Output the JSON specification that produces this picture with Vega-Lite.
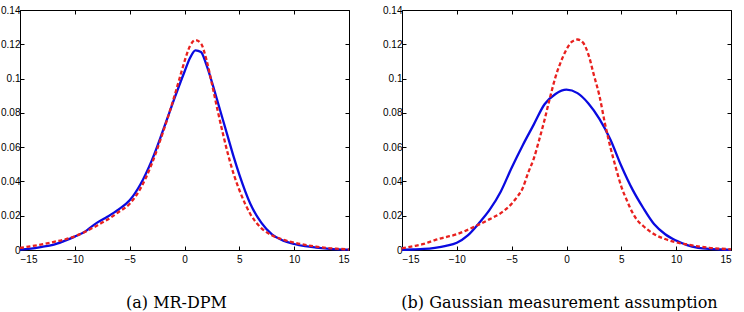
{
  "$schema": "https://vega.github.io/schema/vega-lite/v6.json",
  "padding": {"left": 0, "top": 4, "right": 5, "bottom": 0},
  "background": "white",
  "datasets": {
    "left": [
      {"s": "est", "x": -15, "y": 0.0003}, {"s": "est", "x": -14, "y": 0.0008}, {"s": "est", "x": -13, "y": 0.0018}, {"s": "est", "x": -12, "y": 0.003}, {"s": "est", "x": -11, "y": 0.0052}, {"s": "est", "x": -10, "y": 0.0078}, {"s": "est", "x": -9, "y": 0.011}, {"s": "est", "x": -8.5, "y": 0.0135}, {"s": "est", "x": -8, "y": 0.0158}, {"s": "est", "x": -7, "y": 0.0195}, {"s": "est", "x": -6, "y": 0.0237}, {"s": "est", "x": -5, "y": 0.029}, {"s": "est", "x": -4, "y": 0.0385}, {"s": "est", "x": -3, "y": 0.052}, {"s": "est", "x": -2, "y": 0.069}, {"s": "est", "x": -1, "y": 0.087}, {"s": "est", "x": 0, "y": 0.104}, {"s": "est", "x": 0.5, "y": 0.112}, {"s": "est", "x": 1, "y": 0.1165}, {"s": "est", "x": 1.5, "y": 0.1155}, {"s": "est", "x": 2, "y": 0.108}, {"s": "est", "x": 2.5, "y": 0.098}, {"s": "est", "x": 3, "y": 0.087}, {"s": "est", "x": 3.5, "y": 0.076}, {"s": "est", "x": 4, "y": 0.065}, {"s": "est", "x": 4.5, "y": 0.054}, {"s": "est", "x": 5, "y": 0.044}, {"s": "est", "x": 6, "y": 0.027}, {"s": "est", "x": 7, "y": 0.016}, {"s": "est", "x": 8, "y": 0.009}, {"s": "est", "x": 9, "y": 0.0055}, {"s": "est", "x": 10, "y": 0.0035}, {"s": "est", "x": 11, "y": 0.0022}, {"s": "est", "x": 12, "y": 0.0014}, {"s": "est", "x": 13, "y": 0.0008}, {"s": "est", "x": 14, "y": 0.0004}, {"s": "est", "x": 15, "y": 0.0002},
      {"s": "true", "x": -15, "y": 0.0012}, {"s": "true", "x": -14, "y": 0.0022}, {"s": "true", "x": -13, "y": 0.0033}, {"s": "true", "x": -12, "y": 0.0046}, {"s": "true", "x": -11, "y": 0.006}, {"s": "true", "x": -10, "y": 0.008}, {"s": "true", "x": -9, "y": 0.0108}, {"s": "true", "x": -8, "y": 0.0142}, {"s": "true", "x": -7, "y": 0.0178}, {"s": "true", "x": -6, "y": 0.0222}, {"s": "true", "x": -5, "y": 0.027}, {"s": "true", "x": -4, "y": 0.036}, {"s": "true", "x": -3, "y": 0.05}, {"s": "true", "x": -2, "y": 0.068}, {"s": "true", "x": -1, "y": 0.088}, {"s": "true", "x": -0.5, "y": 0.099}, {"s": "true", "x": 0, "y": 0.11}, {"s": "true", "x": 0.5, "y": 0.119}, {"s": "true", "x": 1, "y": 0.1225}, {"s": "true", "x": 1.5, "y": 0.1205}, {"s": "true", "x": 2, "y": 0.111}, {"s": "true", "x": 2.5, "y": 0.097}, {"s": "true", "x": 3, "y": 0.082}, {"s": "true", "x": 3.5, "y": 0.068}, {"s": "true", "x": 4, "y": 0.055}, {"s": "true", "x": 4.5, "y": 0.044}, {"s": "true", "x": 5, "y": 0.035}, {"s": "true", "x": 6, "y": 0.021}, {"s": "true", "x": 7, "y": 0.0128}, {"s": "true", "x": 8, "y": 0.0085}, {"s": "true", "x": 9, "y": 0.006}, {"s": "true", "x": 10, "y": 0.0043}, {"s": "true", "x": 11, "y": 0.003}, {"s": "true", "x": 12, "y": 0.002}, {"s": "true", "x": 13, "y": 0.0012}, {"s": "true", "x": 14, "y": 0.0007}, {"s": "true", "x": 15, "y": 0.0003}
    ],
    "right": [
      {"s": "est", "x": -15, "y": 0.0001}, {"s": "est", "x": -14, "y": 0.0003}, {"s": "est", "x": -13, "y": 0.0006}, {"s": "est", "x": -12, "y": 0.0013}, {"s": "est", "x": -11, "y": 0.0024}, {"s": "est", "x": -10, "y": 0.0042}, {"s": "est", "x": -9, "y": 0.0085}, {"s": "est", "x": -8, "y": 0.0155}, {"s": "est", "x": -7, "y": 0.0235}, {"s": "est", "x": -6, "y": 0.034}, {"s": "est", "x": -5, "y": 0.048}, {"s": "est", "x": -4, "y": 0.061}, {"s": "est", "x": -3, "y": 0.073}, {"s": "est", "x": -2, "y": 0.085}, {"s": "est", "x": -1, "y": 0.091}, {"s": "est", "x": 0, "y": 0.0935}, {"s": "est", "x": 1, "y": 0.0915}, {"s": "est", "x": 2, "y": 0.0855}, {"s": "est", "x": 3, "y": 0.0765}, {"s": "est", "x": 4, "y": 0.0645}, {"s": "est", "x": 5, "y": 0.049}, {"s": "est", "x": 6, "y": 0.0355}, {"s": "est", "x": 7, "y": 0.0245}, {"s": "est", "x": 8, "y": 0.015}, {"s": "est", "x": 9, "y": 0.0092}, {"s": "est", "x": 10, "y": 0.0055}, {"s": "est", "x": 11, "y": 0.0028}, {"s": "est", "x": 12, "y": 0.0013}, {"s": "est", "x": 13, "y": 0.0006}, {"s": "est", "x": 14, "y": 0.0003}, {"s": "est", "x": 15, "y": 0.0001},
      {"s": "true", "x": -15, "y": 0.001}, {"s": "true", "x": -14, "y": 0.0022}, {"s": "true", "x": -13, "y": 0.0036}, {"s": "true", "x": -12, "y": 0.0058}, {"s": "true", "x": -11, "y": 0.0075}, {"s": "true", "x": -10, "y": 0.0092}, {"s": "true", "x": -9, "y": 0.0118}, {"s": "true", "x": -8, "y": 0.0148}, {"s": "true", "x": -7, "y": 0.018}, {"s": "true", "x": -6, "y": 0.0215}, {"s": "true", "x": -5, "y": 0.027}, {"s": "true", "x": -4.5, "y": 0.031}, {"s": "true", "x": -4, "y": 0.036}, {"s": "true", "x": -3.5, "y": 0.045}, {"s": "true", "x": -3, "y": 0.053}, {"s": "true", "x": -2.5, "y": 0.064}, {"s": "true", "x": -2, "y": 0.076}, {"s": "true", "x": -1.5, "y": 0.089}, {"s": "true", "x": -1, "y": 0.101}, {"s": "true", "x": -0.5, "y": 0.11}, {"s": "true", "x": 0, "y": 0.117}, {"s": "true", "x": 0.5, "y": 0.1215}, {"s": "true", "x": 1, "y": 0.1228}, {"s": "true", "x": 1.5, "y": 0.121}, {"s": "true", "x": 2, "y": 0.114}, {"s": "true", "x": 2.5, "y": 0.102}, {"s": "true", "x": 3, "y": 0.09}, {"s": "true", "x": 3.5, "y": 0.074}, {"s": "true", "x": 4, "y": 0.06}, {"s": "true", "x": 4.5, "y": 0.048}, {"s": "true", "x": 5, "y": 0.037}, {"s": "true", "x": 5.5, "y": 0.029}, {"s": "true", "x": 6, "y": 0.022}, {"s": "true", "x": 6.5, "y": 0.017}, {"s": "true", "x": 7, "y": 0.014}, {"s": "true", "x": 8, "y": 0.0092}, {"s": "true", "x": 9, "y": 0.0064}, {"s": "true", "x": 10, "y": 0.0045}, {"s": "true", "x": 11, "y": 0.0032}, {"s": "true", "x": 12, "y": 0.0021}, {"s": "true", "x": 13, "y": 0.0013}, {"s": "true", "x": 14, "y": 0.0008}, {"s": "true", "x": 15, "y": 0.0004}
    ]
  },
  "spacing": 53,
  "bounds": "flush",
  "hconcat": [
    {
      "width": 329,
      "height": 240,
      "data": {"name": "left"},
      "layer": [
        {
          "transform": [{"filter": "datum.s === 'est'"}],
          "mark": {"type": "line", "color": "#0a0ae0", "strokeWidth": 2.3, "interpolate": "monotone"},
          "encoding": {
            "x": {"field": "x", "type": "quantitative", "scale": {"domain": [-15, 15], "nice": false}, "axis": {"orient": "bottom", "values": [-15, -10, -5, 0, 5, 10, 15], "title": "(a) MR-DPM", "titleX": 156}},
            "y": {"field": "y", "type": "quantitative", "scale": {"domain": [0, 0.14], "nice": false}, "axis": {"orient": "left", "values": [0, 0.02, 0.04, 0.06, 0.08, 0.1, 0.12, 0.14], "labelExpr": "format(datum.value, '~g')", "title": null}}
          }
        },
        {
          "mark": {"type": "line", "opacity": 0},
          "encoding": {
            "x": {"field": "x", "type": "quantitative", "axis": {"orient": "top", "labels": false, "title": null, "values": [-15, -10, -5, 0, 5, 10, 15]}},
            "y": {"field": "y", "type": "quantitative", "axis": {"orient": "right", "labels": false, "title": null, "values": [0, 0.02, 0.04, 0.06, 0.08, 0.1, 0.12, 0.14]}}
          }
        },
        {
          "transform": [{"filter": "datum.s === 'true'"}],
          "mark": {"type": "line", "color": "#e8201e", "strokeWidth": 2.3, "strokeDash": [4, 2.5], "interpolate": "monotone"},
          "encoding": {
            "x": {"field": "x", "type": "quantitative", "axis": null},
            "y": {"field": "y", "type": "quantitative", "axis": null}
          }
        }
      ],
      "resolve": {"axis": {"x": "independent", "y": "independent"}}
    },
    {
      "width": 329,
      "height": 240,
      "data": {"name": "right"},
      "layer": [
        {
          "transform": [{"filter": "datum.s === 'est'"}],
          "mark": {"type": "line", "color": "#0a0ae0", "strokeWidth": 2.3, "interpolate": "monotone"},
          "encoding": {
            "x": {"field": "x", "type": "quantitative", "scale": {"domain": [-15, 15], "nice": false}, "axis": {"orient": "bottom", "values": [-15, -10, -5, 0, 5, 10, 15], "title": "(b) Gaussian measurement assumption", "titleX": 157}},
            "y": {"field": "y", "type": "quantitative", "scale": {"domain": [0, 0.14], "nice": false}, "axis": {"orient": "left", "values": [0, 0.02, 0.04, 0.06, 0.08, 0.1, 0.12, 0.14], "labelExpr": "format(datum.value, '~g')", "title": null}}
          }
        },
        {
          "mark": {"type": "line", "opacity": 0},
          "encoding": {
            "x": {"field": "x", "type": "quantitative", "axis": {"orient": "top", "labels": false, "title": null, "values": [-15, -10, -5, 0, 5, 10, 15]}},
            "y": {"field": "y", "type": "quantitative", "axis": {"orient": "right", "labels": false, "title": null, "values": [0, 0.02, 0.04, 0.06, 0.08, 0.1, 0.12, 0.14]}}
          }
        },
        {
          "transform": [{"filter": "datum.s === 'true'"}],
          "mark": {"type": "line", "color": "#e8201e", "strokeWidth": 2.3, "strokeDash": [4, 2.5], "interpolate": "monotone"},
          "encoding": {
            "x": {"field": "x", "type": "quantitative", "axis": null},
            "y": {"field": "y", "type": "quantitative", "axis": null}
          }
        }
      ],
      "resolve": {"axis": {"x": "independent", "y": "independent"}}
    }
  ],
  "config": {
    "view": {"stroke": "#000000", "strokeWidth": 1},
    "axis": {
      "grid": false,
      "domain": false,
      "tickSize": -4,
      "tickColor": "#000000",
      "tickWidth": 1,
      "labelFont": "Liberation Sans",
      "labelFontSize": 10,
      "labelColor": "#000000",
      "titleFont": "DejaVu Serif",
      "titleFontSize": 16,
      "titleFontWeight": "normal",
      "titleColor": "#000000",
      "titlePadding": 30
    },
    "axisY": {"labelPadding": 4},
    "axisX": {"labelPadding": 8}
  }
}
